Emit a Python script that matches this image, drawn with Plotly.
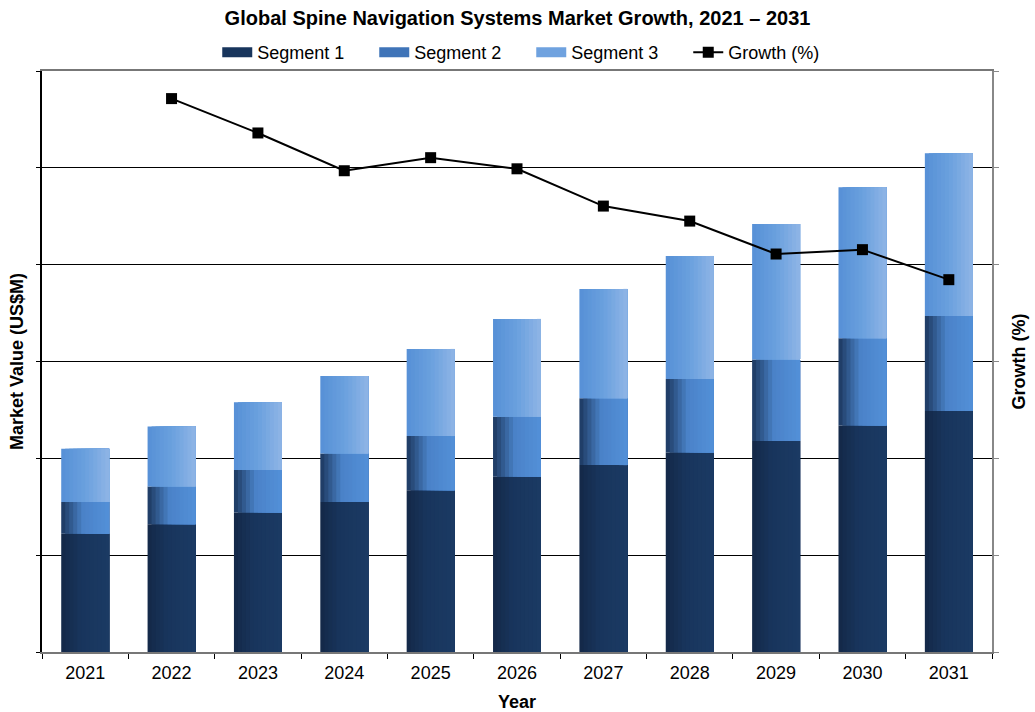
import plotly.graph_objects as go

years = ["2021", "2022", "2023", "2024", "2025", "2026", "2027", "2028", "2029", "2030", "2031"]
segment1 = [122, 132, 144, 155, 167, 181, 193, 206, 218, 234, 249]
segment2 = [33, 39, 44, 50, 56, 62, 69, 76, 84, 90, 98]
segment3 = [55, 62, 70, 80, 90, 101, 113, 127, 140, 156, 168]
growth_years = ["2022", "2023", "2024", "2025", "2026", "2027", "2028", "2029", "2030", "2031"]
growth = [11.43, 10.72, 9.94, 10.21, 9.98, 9.21, 8.90, 8.22, 8.31, 7.69]

def lerp(c1, c2, t):
    a = [int(c1[i:i + 2], 16) for i in (1, 3, 5)]
    b = [int(c2[i:i + 2], 16) for i in (1, 3, 5)]
    return "rgb(%d,%d,%d)" % tuple(round(a[k] + (b[k] - a[k]) * t) for k in range(3))

def gradient(stops, t):
    for (p0, c0), (p1, c1) in zip(stops, stops[1:]):
        if t <= p1:
            return lerp(c0, c1, (t - p0) / (p1 - p0) if p1 > p0 else 0)
    return lerp(stops[-1][1], stops[-1][1], 0)

segs = [
    ("Segment 1", segment1, [(0, "#132847"), (0.4, "#18355c"), (1, "#1b3a63")], "#18355c"),
    ("Segment 2", segment2, [(0, "#1c375e"), (0.45, "#4a82c8"), (1, "#5390d8")], "#3f74b8"),
    ("Segment 3", segment3, [(0, "#5690d6"), (0.5, "#6aa0de"), (1, "#8fb5e6")], "#6fa2df"),
]

fig = go.Figure()
W = 0.555
N = 12
base = [0] * len(years)
for name, vals, stops, legcol in segs:
    for i in range(N):
        t = (i + 0.5) / N
        fig.add_trace(go.Bar(
            x=years, y=vals, base=list(base),
            width=W - i * W / N, offset=-W / 2 + i * W / N,
            marker=dict(color=gradient(stops, t), line=dict(width=0)),
            name=name, legendgroup=name, showlegend=False,
            hoverinfo="skip" if i != 0 else None,
        ))
    base = [b + v for b, v in zip(base, vals)]
    fig.add_trace(go.Scatter(
        x=[None], y=[None], mode="lines", name=name, legendgroup=name,
        line=dict(color=legcol, width=10),
    ))

fig.add_trace(go.Scatter(
    x=growth_years, y=growth, yaxis="y2", name="Growth (%)",
    mode="lines+markers",
    line=dict(color="black", width=2),
    marker=dict(symbol="square", size=11, color="black"),
))

fig.update_layout(
    width=1035, height=712,
    margin=dict(l=42, r=43, t=71, b=60),
    paper_bgcolor="white", plot_bgcolor="white",
    barmode="overlay",
    font=dict(family="Arial, Liberation Sans, sans-serif", size=18, color="black"),
    title=dict(text="<b>Global Spine Navigation Systems Market Growth, 2021 – 2031</b>",
               x=0.5, xanchor="center", y=0.975, yanchor="middle", font=dict(size=20)),
    legend=dict(orientation="h", x=0.515, xanchor="center", y=1.0, yanchor="bottom",
                font=dict(size=18), traceorder="normal", bgcolor="rgba(0,0,0,0)",
                entrywidth=112, entrywidthmode="pixels"),
    xaxis=dict(
        title=dict(text="<b>Year</b>", font=dict(size=18), standoff=14),
        automargin=False, range=[-0.5, 10.5], autorange=False,
        showline=True, linecolor="#777777", linewidth=2, mirror=True,
        ticks="outside", tickson="boundaries", ticklen=5, tickcolor="black",
        ticklabelstandoff=3,
        showgrid=False, tickfont=dict(size=18),
    ),
    yaxis=dict(
        title=dict(text="<b>Market Value (US$M)</b>", font=dict(size=18), standoff=8),
        automargin=False,
        range=[0, 600], dtick=100, showticklabels=False,
        showline=True, linecolor="black", linewidth=2,
        ticks="outside", ticklen=4, tickcolor="black",
        showgrid=True, gridcolor="black", gridwidth=1, zeroline=False,
    ),
    yaxis2=dict(
        title=dict(text="<b>Growth (%)</b>", font=dict(size=18), standoff=14),
        automargin=False,
        overlaying="y", side="right", range=[0, 12], dtick=2, showticklabels=False,
        showline=True, linecolor="#888888", linewidth=2,
        ticks="outside", ticklen=5, tickcolor="#888888",
        showgrid=False, zeroline=False,
    ),
)

fig.write_html("out.html")
